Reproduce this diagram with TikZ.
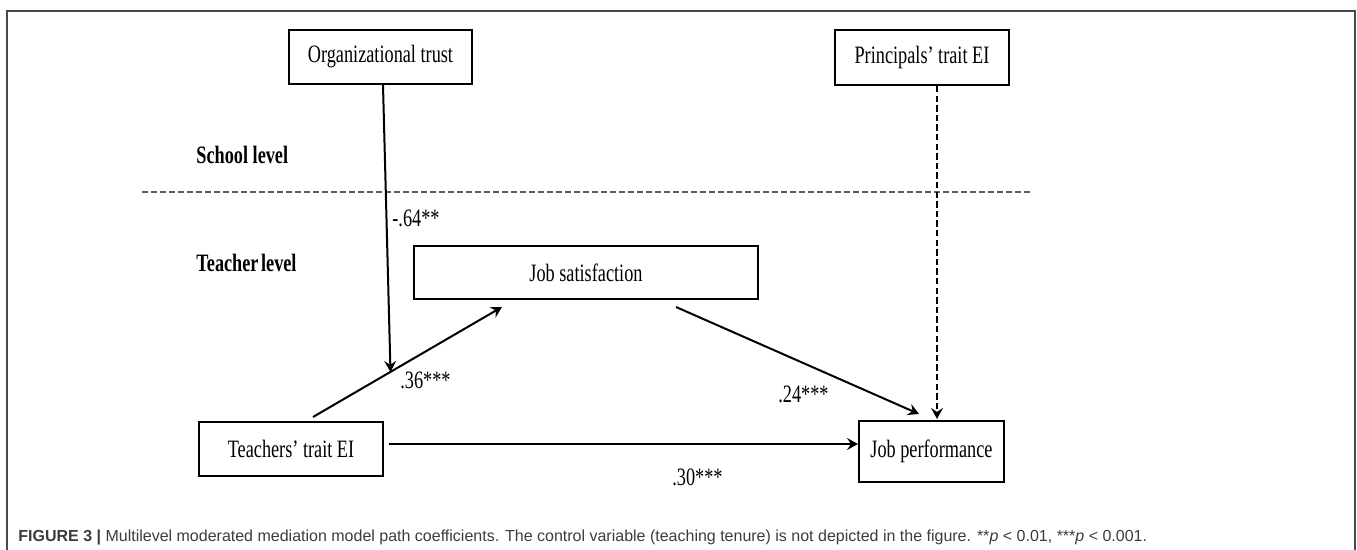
\documentclass[tikz,border=0pt]{standalone}
\usepackage{fontspec}
\setmainfont{Liberation Serif}[FakeStretch=0.73]
\newfontfamily\capfont{Liberation Sans}
\usetikzlibrary{arrows.meta,calc}
\definecolor{capgray}{HTML}{3C3C3C}
\definecolor{framegray}{HTML}{4A4A4A}
\definecolor{levelgray}{HTML}{5A5A5A}

\begin{document}
\begin{tikzpicture}[
  x=0.5pt, y=-0.5pt,
  box/.style={draw, line width=1pt, inner sep=0pt, minimum height=27pt,
              font=\fontsize{12.5}{14}\selectfont},
  lvl/.style={anchor=west, inner sep=0pt, font=\fontsize{12.5}{14}\selectfont\bfseries},
  coef/.style={anchor=west, inner sep=0pt, font=\fontsize{12.5}{14}\selectfont},
  link/.style={->, line width=1pt},
  >={Stealth[length=5.5pt, width=6pt, inset=2pt]}
]
\useasboundingbox (0,0) rectangle (1357,550);
\draw[framegray, line width=0.6pt] (7,550) -- (7,11) -- (1355,11) -- (1355,550);

% school level
\node[box, minimum width=91.5pt] (trust) at (380.5,57) {Organizational trust\hspace{7pt}};
\node[box, minimum width=87pt, minimum height=27.5pt] (pei) at (922,57.5) {Principals' trait EI};
\node[lvl] (school) at (196,155) {School level};
\draw[levelgray, line width=0.6pt, dash pattern=on 3pt off 1.5pt] (142,192) -- (1033,192);

% teacher level
\node[lvl] (teacher) at (196,263) {Teacher\hspace{0.1em}level};
\node[box, minimum width=172pt, minimum height=26.5pt] (sat) at (586,272.5) {Job satisfaction};
\node[box, minimum width=92pt] (tei) at (291,449) {Teachers' trait EI\hspace{8pt}};
\node[box, minimum width=72.5pt, minimum height=30.5pt] (perf) at (931.5,451.5) {Job performance};

\draw[link] ([shift={(22,-4)}]tei.north) -- coordinate[pos=0.41] (mod) ([shift={(-84,7)}]sat.south);
\draw[link] ([xshift=1.25pt]trust.south) -- (mod);
\draw[link] ([shift={(90,7)}]sat.south) -- ([shift={(-12.5,-6)}]perf.north);
\draw[link] ([shift={(5,-5)}]tei.east) -- ([shift={(0,-7.5)}]perf.west);
\draw[link, dash pattern=on 3.2pt off 1.6pt] ([xshift=7.5pt]pei.south) -- ([shift={(5.5,-1)}]perf.north);

\node[coef] (c64) at (392,218) {-.64**};
\node[coef] (c36) at (400,380) {.36***};
\node[coef] (c24) at (778,394) {.24***};
\node[coef] (c30) at (672,477) {.30***};

\node[anchor=base west, inner sep=0pt, text=capgray,
      font=\capfont\fontsize{8}{9}\selectfont] (cap) at (18,542)
  {\textbf{FIGURE 3 |} Multilevel moderated mediation model path coefficients. The control variable (teaching tenure) is not depicted in the figure. **\textit{p} < 0.01, ***\textit{p} < 0.001.};
\end{tikzpicture}
\end{document}
